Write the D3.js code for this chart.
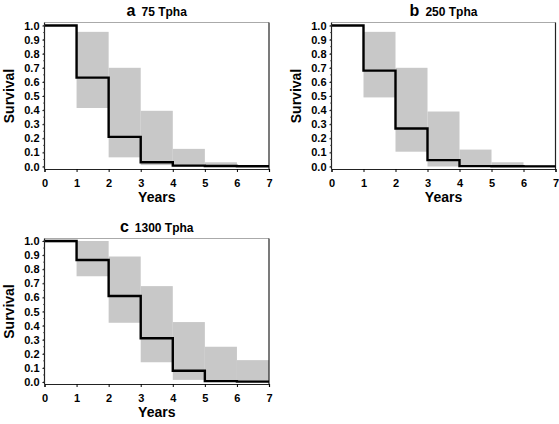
<!DOCTYPE html>
<html><head><meta charset="utf-8">
<script src="https://cdn.jsdelivr.net/npm/d3@7"></script>
<style>body{margin:0;background:#fff}svg{display:block}text{font-family:"Liberation Sans",Arial,sans-serif;font-weight:bold}</style>
</head><body><svg id="c" width="559" height="424"></svg>
<script>
const years = [0,1,2,3,4,5,6,7];
const yTicks = [0,0.1,0.2,0.3,0.4,0.5,0.6,0.7,0.8,0.9,1.0];
const panelLetters = ["a","b","c"];
const panelTitles = ["75 Tpha","250 Tpha","1300 Tpha"];
// survival per yearly interval [0-1,1-2,...,6-7]
const survA = [1.0,0.63,0.21,0.03,0.006,0.004,0.002];
const upperA = [1.0,0.955,0.70,0.395,0.125,0.03,0.01];
const lowerA = [1.0,0.415,0.065,0.01,0.0,0.0,0.0];
const survB = [1.0,0.68,0.27,0.045,0.003,0.002,0.001];
const upperB = [1.0,0.955,0.70,0.39,0.12,0.03,0.01];
const lowerB = [1.0,0.49,0.105,0.0,0.0,0.0,0.0];
const survC = [1.0,0.865,0.61,0.31,0.08,0.006,0.003];
const upperC = [1.0,1.0,0.89,0.68,0.425,0.25,0.155];
const lowerC = [0.99,0.75,0.42,0.14,0.015,0.0,0.0];

const panels = [
  {x0:44.5,x1:269,y1:25.5,y0:166.5,axisY:169,top:22.5,surv:survA,up:upperA,lo:lowerA},
  {x0:331.5,x1:555.5,y1:25.5,y0:166.5,axisY:169,top:22.5,surv:survB,up:upperB,lo:lowerB},
  {x0:44.5,x1:269,y1:241,y0:382,axisY:384,top:238.5,surv:survC,up:upperC,lo:lowerC}
];
const svg = d3.select("#c");
panels.forEach((p,i)=>{
  const x = d3.scaleLinear().domain([0,7]).range([p.x0,p.x1]);
  const y = d3.scaleLinear().domain([0,1]).range([p.y0,p.y1]);
  const g = svg.append("g");
  // CI bands
  g.selectAll("rect.ci").data(d3.range(7)).join("rect")
    .attr("x",d=>x(d)).attr("width",d=>x(d+1)-x(d))
    .attr("y",d=>y(p.up[d])).attr("height",d=>Math.max(0,y(p.lo[d])-y(p.up[d])))
    .attr("fill","#c8c8c8");
  // frame top/right
  g.append("line").attr("x1",p.x0).attr("x2",p.x1).attr("y1",p.top).attr("y2",p.top).attr("stroke","#aaa").attr("stroke-width",1);
  g.append("line").attr("x1",p.x1).attr("x2",p.x1).attr("y1",p.top).attr("y2",p.axisY).attr("stroke","#222").attr("stroke-width",1.2);
  // step line
  const pts=[];
  d3.range(7).forEach(d=>{pts.push([x(d),y(p.surv[d])]);pts.push([x(d+1),y(p.surv[d])]);});
  g.append("path").attr("d",d3.line()(pts)).attr("fill","none").attr("stroke","#000").attr("stroke-width",2.4);
  // x axis
  const xa = g.append("g").attr("transform",`translate(0,${p.axisY})`)
    .call(d3.axisBottom(x).tickValues(years).tickSize(3).tickFormat(d3.format("d")));
  xa.select(".domain").attr("stroke","#222").attr("stroke-width",1.2);
  xa.selectAll("text").attr("font-size",11).attr("dy","1.1em").attr("fill","#000");
  // y axis
  const ya = g.append("g").attr("transform",`translate(${p.x0},0)`)
    .call(d3.axisLeft(y).tickValues(yTicks).tickSize(2).tickFormat(d3.format(".1f")));
  ya.select(".domain").remove();
  g.append("line").attr("x1",p.x0).attr("x2",p.x0).attr("y1",p.top).attr("y2",p.axisY).attr("stroke","#222").attr("stroke-width",1.2);
  ya.selectAll("text").attr("font-size",11).attr("x",-5).attr("fill","#000");
  // minor ticks
  g.selectAll("line.mt").data(d3.range(0,1.0001,0.05)).join("line")
    .attr("x1",p.x0-1.5).attr("x2",p.x0).attr("y1",d=>y(d)).attr("y2",d=>y(d)).attr("stroke","#444").attr("stroke-width",0.8);
  // title
  const t = g.append("text").attr("x",(p.x0+p.x1)/2).attr("y",p.top-7).attr("text-anchor","middle").attr("fill","#000");
  t.append("tspan").attr("font-size",16).text(panelLetters[i]);
  t.append("tspan").attr("font-size",12).attr("dx",6).text(panelTitles[i]);
  // axis titles
  g.append("text").attr("x",(p.x0+p.x1)/2).attr("y",p.axisY+33).attr("text-anchor","middle").attr("font-size",14).text("Years");
  g.append("text").attr("transform",`translate(${p.x0-31},${(p.y0+p.y1)/2}) rotate(-90)`).attr("text-anchor","middle").attr("font-size",14).text("Survival");
});
</script></body></html>
